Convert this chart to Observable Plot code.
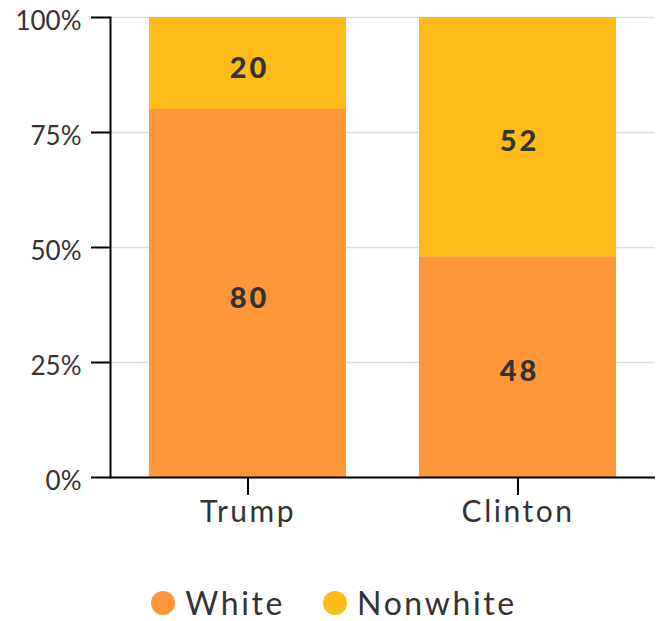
<!DOCTYPE html>
<html>
<head>
<meta charset="utf-8">
<script src="https://cdn.jsdelivr.net/npm/d3@7"></script>
<script src="https://cdn.jsdelivr.net/npm/@observablehq/plot@0.6"></script>
<style>
  body { margin: 0; background: #fff; font-family: Lato, "Open Sans", sans-serif; position: relative; width: 656px; height: 621px; }
  #chart svg { display: block; }
  .legend { position: absolute; left: 0; top: 584px; width: 644px; padding-left: 12px; display: flex; justify-content: center; gap: 38px; font-size: 32px; line-height: 38px; height: 38px; color: #333; font-weight: 400; letter-spacing: 2.6px; }
  .legend span { display: flex; align-items: center; }
  .legend i { display: inline-block; width: 24px; height: 24px; border-radius: 50%; margin-right: 10px; }
  .xlab text { letter-spacing: 2.5px; }
  .vlab text { letter-spacing: 3px; }
</style>
</head>
<body>
<div id="chart"></div>
<div class="legend" id="legend"></div>
<script>
const candidates = ["Trump", "Clinton"];
const groups = ["White", "Nonwhite"];
const colors = ["#fe963a", "#fdbc1a"];
const whiteValues = [80, 48];
const nonwhiteValues = [20, 52];
const yTicks = [0, 25, 50, 75, 100];

const data = [];
candidates.forEach((c, i) => {
  data.push({candidate: c, group: "White", value: whiteValues[i]});
  data.push({candidate: c, group: "Nonwhite", value: nonwhiteValues[i]});
});

const plot = Plot.plot({
  width: 656,
  height: 540,
  marginLeft: 110,
  marginRight: 1,
  marginTop: 17,
  marginBottom: 63,
  style: {fontFamily: "Lato, 'Open Sans', sans-serif", color: "#333", background: "#fff"},
  x: {domain: candidates, paddingInner: 0.27, paddingOuter: 0.144, label: null},
  y: {domain: [0, 100], label: null},
  color: {domain: groups, range: colors},
  marks: [
    Plot.ruleY(yTicks, {stroke: "#dddddd", strokeWidth: 1.5}),
    Plot.barY(data, Plot.stackY({x: "candidate", y: "value", fill: "group"})),
    Plot.text(data, Plot.stackY({x: "candidate", y: "value", z: "group", text: d => String(d.value), fontSize: 29, fontWeight: 900, fill: "#333", dy: 5, dx: 1.5})),
    Plot.axisY({ticks: yTicks, tickSize: 19, text: null, stroke: "black", strokeWidth: 2}),
    Plot.axisY({ticks: yTicks, tickFormat: d => d + "%", tickSize: 0, tickPadding: 29, fontSize: 26, color: "#333", dy: 4}),
    Plot.axisX({tickSize: 18, tickPadding: 5, fontSize: 30, stroke: "black", strokeWidth: 2}),
    Plot.frame({anchor: "left", stroke: "black", strokeWidth: 2}),
    Plot.ruleY([0], {stroke: "black", strokeWidth: 2})
  ]
});
document.getElementById("chart").appendChild(plot);

// styling: widen letter spacing to approximate the reference typeface
d3.select(plot).selectAll('g[aria-label="x-axis tick label"]').classed("xlab", true);
d3.select(plot).selectAll('g[aria-label="text"]').classed("vlab", true);

const legend = document.getElementById("legend");
groups.forEach((g, i) => {
  const s = document.createElement("span");
  const dot = document.createElement("i");
  dot.style.background = colors[i];
  s.appendChild(dot);
  s.appendChild(document.createTextNode(g));
  legend.appendChild(s);
});
</script>
</body>
</html>
